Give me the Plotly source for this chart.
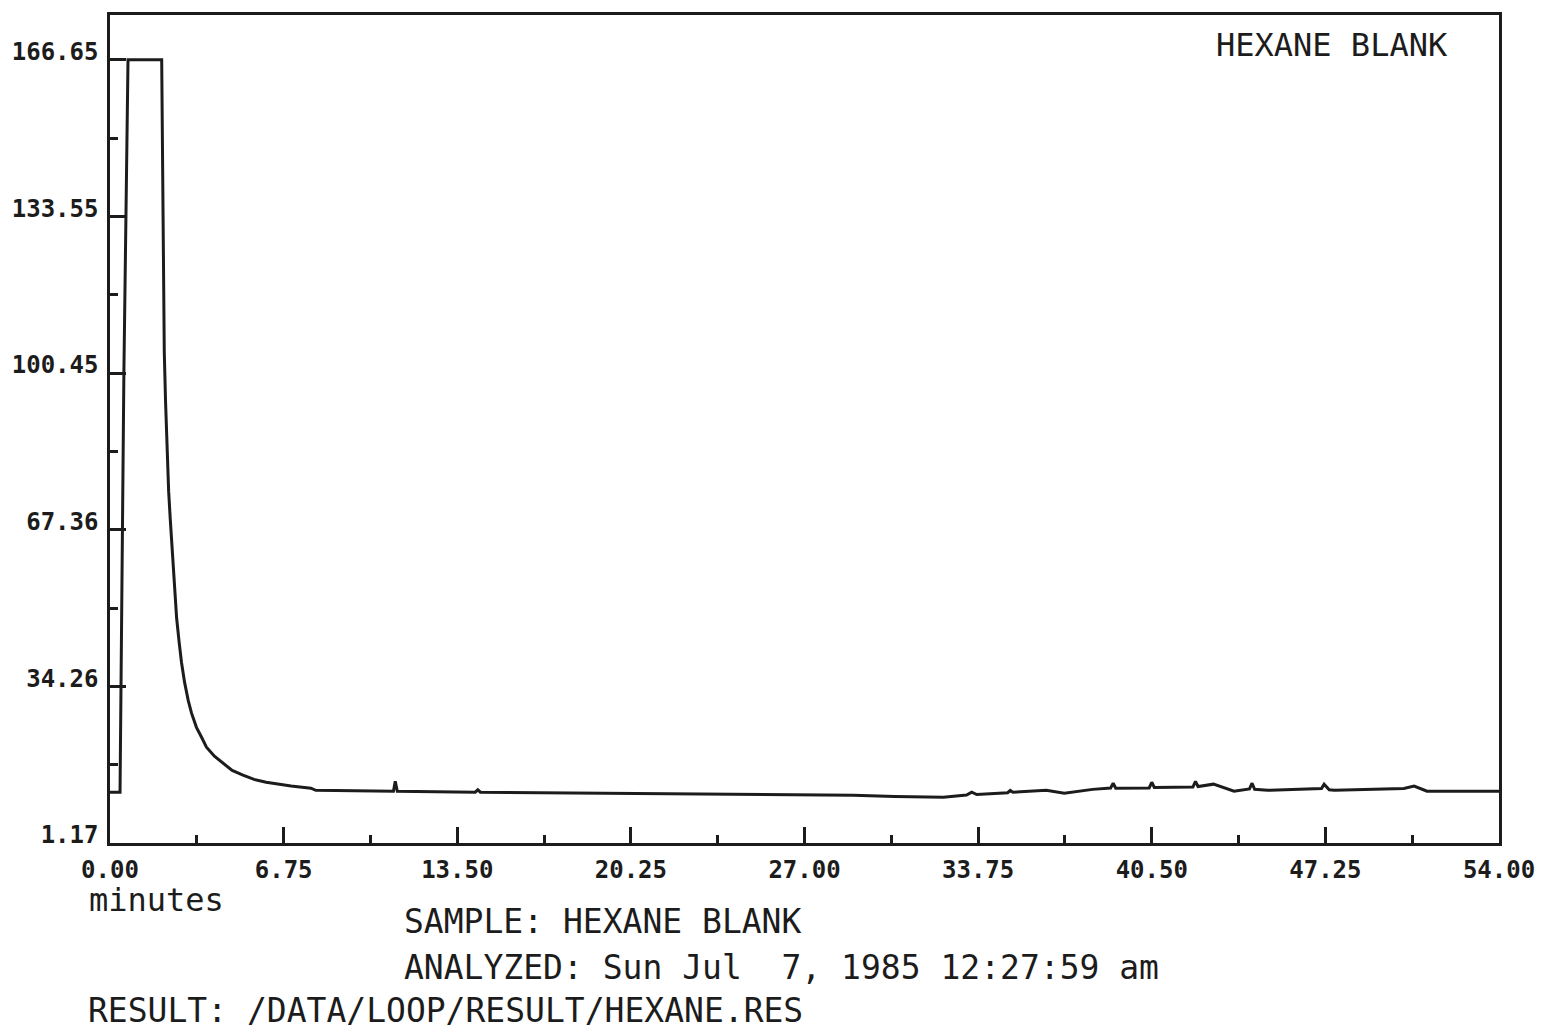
import plotly.graph_objects as go

# ---- data ----
time_min = [0.0, 0.39, 0.54, 0.70, 2.01, 2.05, 2.09, 2.11, 2.16, 2.22, 2.28, 2.34, 2.40,
            2.45, 2.51, 2.59, 2.69, 2.78, 2.90, 3.04, 3.17, 3.36, 3.56, 3.75, 4.06, 4.40,
            4.75, 5.17, 5.60, 6.07, 6.53, 7.04, 7.81, 8.00, 9.50, 11.02, 11.09, 11.17,
            14.20, 14.30, 14.40, 19.20, 24.00, 28.90, 30.50, 32.40, 33.30, 33.50, 33.70,
            34.90, 35.00, 35.10, 36.40, 37.10, 38.20, 38.90, 39.00, 39.10, 40.40, 40.50,
            40.60, 42.10, 42.20, 42.30, 42.90, 43.70, 44.30, 44.40, 44.50, 45.00, 47.10,
            47.20, 47.40, 47.60, 50.30, 50.70, 51.20, 54.00]
signal = [11.9, 11.9, 100.5, 166.65, 166.65, 144.9, 123.9, 104.96, 94.4, 83.9, 75.5, 69.8, 65.0,
          59.3, 54.4, 48.7, 43.5, 39.3, 35.1, 31.3, 28.6, 25.6, 23.5, 21.4, 19.5, 18.0,
          16.5, 15.5, 14.6, 14.0, 13.6, 13.2, 12.75, 12.3, 12.2, 12.1, 14.2, 12.1,
          11.9, 12.4, 11.9, 11.7, 11.4, 11.27, 11.0, 10.85, 11.3, 11.9, 11.4,
          11.8, 12.3, 11.9, 12.3, 11.7, 12.5, 12.8, 13.8, 12.75, 12.8, 14.0,
          12.9, 13.0, 14.2, 13.1, 13.6, 12.1, 12.6, 13.8, 12.5, 12.3, 12.7,
          13.6, 12.4, 12.3, 12.7, 13.2, 12.1, 12.1]

y_ticks = [1.17, 34.26, 67.36, 100.45, 133.55, 166.65]
y_tick_text = ["1.17", "34.26", "67.36", "100.45", "133.55", "166.65"]
y_minor = [17.715, 50.81, 83.905, 117.0, 150.1]
x_ticks = [0.0, 6.75, 13.5, 20.25, 27.0, 33.75, 40.5, 47.25, 54.0]
x_tick_text = ["0.00", "6.75", "13.50", "20.25", "27.00", "33.75", "40.50", "47.25", "54.00"]
x_minor = [3.375, 10.125, 16.875, 23.625, 30.375, 37.125, 43.875, 50.625]

title_text = "HEXANE BLANK"
sample_text = "SAMPLE: HEXANE BLANK"
analyzed_text = "ANALYZED: Sun Jul\u00a0\u00a07, 1985 12:27:59 am"
result_text = "RESULT: /DATA/LOOP/RESULT/HEXANE.RES"
xunit_text = "minutes"

INK = "#1c1c1c"
FONT = "DejaVu Sans Mono"

W, H = 1547, 1030
L, R, T, B = 103, 1500, 12, 843


def px(xp):
    return (xp - L) / (R - L)


def py(yp):
    return (B - yp) / (B - T)


fig = go.Figure()
fig.add_trace(go.Scatter(x=time_min, y=signal, mode="lines",
                         line=dict(color=INK, width=3), showlegend=False,
                         hoverinfo="skip"))

axis_common = dict(showline=True, linecolor=INK, linewidth=2.5, mirror=True,
                   showgrid=False, zeroline=False, ticks="inside", tickcolor=INK,
                   tickwidth=2.5, ticklen=16)

fig.update_xaxes(range=[0, 54], tickmode="array", tickvals=x_ticks, ticktext=x_tick_text,
                 minor=dict(tickmode="array", tickvals=x_minor, ticks="inside",
                            ticklen=8, tickwidth=2.5, tickcolor=INK),
                 tickfont=dict(family=FONT, size=24, color=INK, weight="bold"),
                 ticklabelstandoff=3, **axis_common)
fig.update_yaxes(range=[1.17, 176.1], tickmode="array", tickvals=y_ticks, ticktext=y_tick_text,
                 minor=dict(tickmode="array", tickvals=y_minor, ticks="inside",
                            ticklen=8, tickwidth=2.5, tickcolor=INK),
                 tickfont=dict(family=FONT, size=24, color=INK, weight="bold"),
                 ticklabelstandoff=4, ticklabelshift=-8, **axis_common)

ann_font = dict(family=FONT, size=33, color=INK)
annotations = [
    dict(text=title_text, x=px(1451), y=py(42), xanchor="right", yanchor="middle",
         font=dict(family=FONT, size=32, color=INK)),
    dict(text=xunit_text, x=px(80), y=py(900), xanchor="left", yanchor="middle",
         font=dict(family=FONT, size=32, color=INK)),
    dict(text=sample_text, x=px(397), y=py(922), xanchor="left", yanchor="middle", font=ann_font),
    dict(text=analyzed_text, x=px(397), y=py(968), xanchor="left", yanchor="middle", font=ann_font),
    dict(text=result_text, x=px(79), y=py(1011), xanchor="left", yanchor="middle", font=ann_font),
]
for a in annotations:
    a.update(xref="paper", yref="paper", showarrow=False)

fig.update_layout(width=W, height=H, margin=dict(l=L, r=W - R, t=T, b=H - B),
                  paper_bgcolor="white", plot_bgcolor="white",
                  annotations=annotations)

fig.write_html("out.html", config={"displayModeBar": False},
               post_script="document.body.style.margin='0';"
                           "document.body.style.overflow='hidden';")
